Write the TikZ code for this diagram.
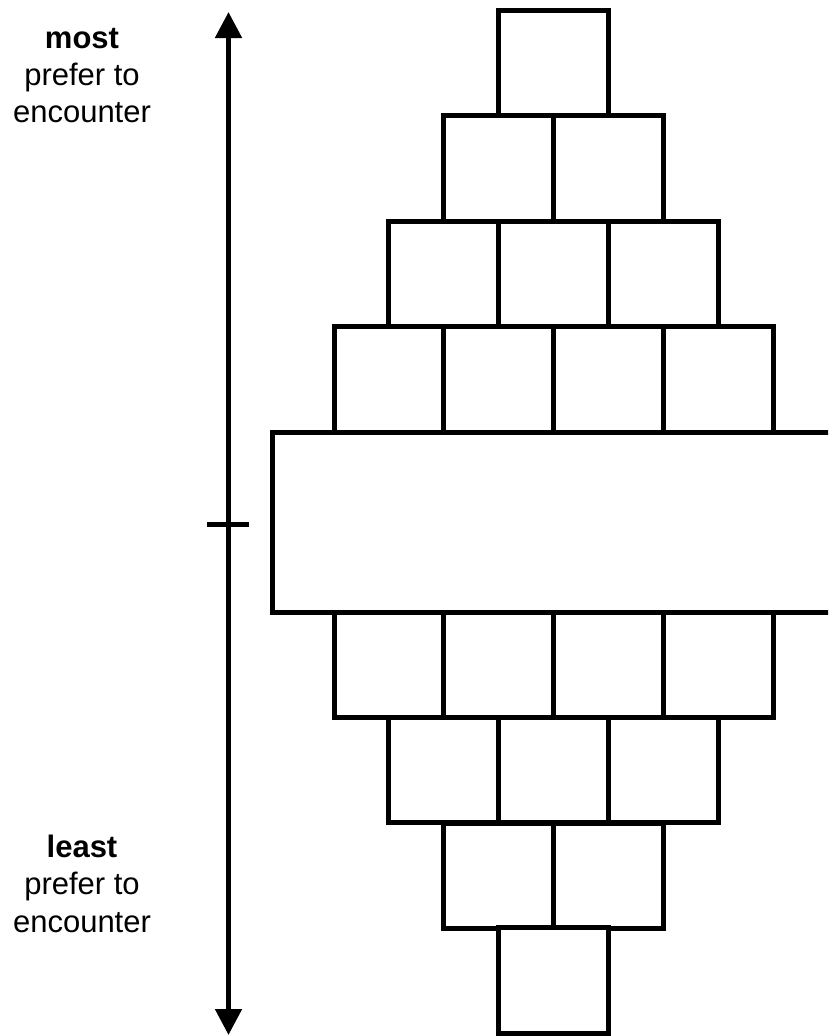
\documentclass[tikz,border=0pt]{standalone}
\usepackage{fontspec}
\setmainfont{Liberation Sans}
\usetikzlibrary{arrows.meta}
\begin{document}
\begin{tikzpicture}[x=1pt,y=-1pt,
  cell/.style={draw=black,line width=5pt,minimum width=109.75pt,minimum height=105.5pt,
    inner sep=0pt,outer sep=0pt,fill=white},
  wide/.style={draw=black,line width=5pt,minimum width=600pt,minimum height=180pt,
    inner sep=0pt,outer sep=0pt,fill=white},
  caption/.style={font=\fontsize{31}{37}\selectfont,anchor=base,inner sep=0pt},
  axis/.style={line width=5pt,{Triangle[width=26pt,length=26pt]}-{Triangle[width=26pt,length=26pt]}},
  tick/.style={line width=5pt}]
\useasboundingbox (0,0) rectangle (828,1036);
\clip (0,0) rectangle (828,1036);

% central wide band (runs past the right edge)
\node[wide] (mid) at (572.5,522.5) {};

% upper rows: 1, 2, 3, 4 cells
\foreach \n/\y [count=\r] in {1/62.8,2/168.4,3/274,4/379.6}
  \foreach \i in {1,...,\n}
    \node[cell] (up\r-\i) at ({553.5+(\i-(\n+1)/2)*109.75},\y) {};

% lower rows: 4, 3, 2, 1 cells
\foreach \n/\y [count=\r] in {4/664.9,3/770,2/876,1/980.5}
  \foreach \i in {1,...,\n}
    \node[cell] (lo\r-\i) at ({553.5+(\i-(\n+1)/2)*109.75},\y) {};

% vertical scale with midpoint tick
\coordinate (axtop) at (228.5,12);
\coordinate (axbot) at (228.5,1035);
\draw[axis] (axtop) -- (axbot);
\coordinate (tickl) at (207,524);
\coordinate (tickr) at (249,524);
\draw[tick] (tickl) -- (tickr);

% end labels
\node[caption] (most) at (82,48) {\textbf{most}};
\node[caption] (most2) at (82,85) {prefer to};
\node[caption] (most3) at (82,122) {encounter};
\node[caption] (least) at (82,857) {\textbf{least}};
\node[caption] (least2) at (82,894.5) {prefer to};
\node[caption] (least3) at (82,932) {encounter};
\end{tikzpicture}
\end{document}
